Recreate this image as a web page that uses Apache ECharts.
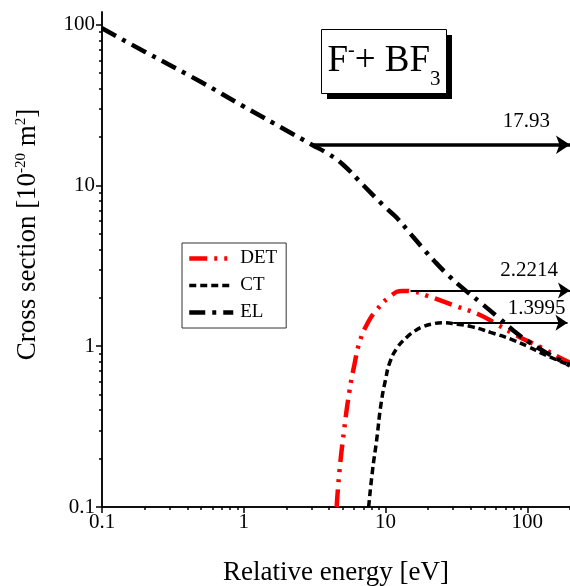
<!DOCTYPE html>
<html>
<head>
<meta charset="utf-8">
<script src="https://cdn.jsdelivr.net/npm/echarts@6/dist/echarts.min.js"></script>
<style>html,body{margin:0;padding:0;background:#fff}#c{width:570px;height:586px}</style>
</head>
<body>
<div id="c"></div>
<script>
// ---- data ----
const elData = [[0.1,95],[0.2,68],[0.5,44],[1,31],[2,22],[3,18],[4,15.6],[5,13.5],[7,10],[10,7.3],[12,6.3],[15,5],[18,4.15],[22,3.4],[28,2.74],[35,2.3],[46,1.89],[63,1.5],[80,1.25],[103,1.06],[140,0.9],[200,0.76]];
const detData = [[4.52,0.1],[4.74,0.17],[5.1,0.3],[5.57,0.53],[6.0,0.75],[6.56,1.06],[7.5,1.4],[8.65,1.68],[10.7,2.03],[13.2,2.21],[16,2.18],[20,2.05],[29.5,1.81],[46,1.57],[60,1.38],[78,1.21],[100,1.08],[126,0.98],[160,0.87],[200,0.79]];
const ctData = [[7.6,0.1],[8.1,0.17],[8.65,0.26],[9.3,0.44],[10,0.62],[10.7,0.79],[12,0.97],[14,1.13],[16,1.24],[18.2,1.32],[21,1.37],[25,1.4],[32,1.37],[41,1.32],[55,1.22],[78,1.1],[100,1.0],[135,0.88],[200,0.76]];
const arrows = [
  {name:'17.93', from:3, to:200, value:17.93},
  {name:'2.2214', from:15, to:200, value:2.2214},
  {name:'1.3995', from:30, to:192, value:1.3995}
];
const majorTicks = [0.1, 1, 10, 100];
const xMinorTicks = [0.2,0.3,0.4,0.5,0.6,0.7,0.8,0.9,2,3,4,5,6,7,8,9,20,30,40,50,60,70,80,90,200];
const yMinorTicks = [0.2,0.3,0.4,0.5,0.6,0.7,0.8,0.9,2,3,4,5,6,7,8,9,20,30,40,50,60,70,80,90];

const FONT = '"Liberation Serif", "Times New Roman", serif';
const chart = echarts.init(document.getElementById('c'), null, {renderer:'canvas'});

function arrowLine(a, width, dist) {
  return {
    silent: true,
    symbol: ['none', 'arrow'],
    symbolSize: width > 3 ? 14 : 12,
    lineStyle: {color:'#000', type:'solid', width: width},
    label: {show:true, position:'insideEndTop', formatter: a.name, color:'#000',
            fontFamily: FONT, fontSize: 21, distance: dist},
    data: [[{coord:[a.from, a.value]}, {coord:[a.to, a.value]}]]
  };
}

const axisCommon = {
  type: 'log', logBase: 10,
  axisLine: {show:true, lineStyle:{color:'#000', width:1.5}},
  splitLine: {show:false},
  minorSplitLine: {show:false}
};

const option = {
  animation: false,
  backgroundColor: '#fff',
  graphic: [
    {type:'rect', left:327, top:35, z:10, shape:{width:125, height:64}, style:{fill:'#000'}},
    {type:'rect', left:321, top:29, z:11, shape:{width:125, height:64}, style:{fill:'#fff', stroke:'#000', lineWidth:1}},
    {type:'text', x:384, y:61, z:12, style:{
      text: '{m|F}{sup|-}{m|+ BF}{sub|3}',
      align: 'center', verticalAlign: 'middle',
      rich: {
        m: {fontFamily: FONT, fontSize: 37, fill:'#000', lineHeight: 57, verticalAlign:'middle'},
        sup: {fontFamily: FONT, fontSize: 20, fill:'#000', verticalAlign:'top', lineHeight: 57, padding:[8,0,0,0]},
        sub: {fontFamily: FONT, fontSize: 21, fill:'#000', verticalAlign:'bottom', lineHeight: 57}
      }
    }}
  ],
  legend: {
    orient: 'vertical', left: 182, top: 243,
    padding: [6, 9, 6, 5],
    itemGap: 8, itemWidth: 44, itemHeight: 18,
    borderColor: '#333', borderWidth: 1, backgroundColor:'#fff',
    itemStyle: {opacity: 0},
    textStyle: {fontFamily: FONT, fontSize: 19, color:'#000', padding:[0,0,0,2]},
    data: [
      {name:'DET', lineStyle:{width:4.5}, itemStyle:{opacity:0}},
      {name:'CT', lineStyle:{width:3.5}, itemStyle:{opacity:0}},
      {name:'EL', lineStyle:{width:4.5}, itemStyle:{opacity:0}}
    ]
  },
  grid: {left: 102, right: 0, top: 12, bottom: 79, outerBoundsMode: 'none', containLabel: false},
  xAxis: [
    Object.assign({}, axisCommon, {
      min: 0.1, max: 200,
      name: 'Relative energy [eV]', nameLocation: 'middle', nameGap: 52,
      nameTextStyle: {fontFamily: FONT, fontSize: 27, color:'#000'},
      axisTick: {show:true, inside:false, length:6, lineStyle:{color:'#000', width:1.5}, customValues: majorTicks},
      axisLabel: {fontFamily: FONT, fontSize: 21, color:'#000', margin: 5, customValues: majorTicks,
                  formatter: v => String(v)}
    }),
    Object.assign({}, axisCommon, {
      min: 0.1, max: 200, position: 'bottom',
      axisTick: {show:true, inside:false, length:3, lineStyle:{color:'#000', width:1.5}, customValues: xMinorTicks},
      axisLabel: {show:false}
    })
  ],
  yAxis: [
    Object.assign({}, axisCommon, {
      min: 0.1, max: 120,
      name: '{a|Cross section [10}{s|-20}{a| m}{s|2}{a|]}', nameLocation: 'middle', nameGap: 61,
      nameTextStyle: {padding:[0,0,0,50], rich: {
        a: {fontFamily: FONT, fontSize: 27, color:'#000'},
        s: {fontFamily: FONT, fontSize: 15, color:'#000', verticalAlign:'top'}
      }},
      axisTick: {show:true, inside:false, length:6, lineStyle:{color:'#000', width:1.5}, customValues: majorTicks},
      axisLabel: {fontFamily: FONT, fontSize: 21, color:'#000', margin: 7, customValues: majorTicks,
                  formatter: v => String(v)}
    }),
    Object.assign({}, axisCommon, {
      min: 0.1, max: 120, position: 'left',
      axisTick: {show:true, inside:false, length:3, lineStyle:{color:'#000', width:1.5}, customValues: yMinorTicks},
      axisLabel: {show:false}
    })
  ],
  series: [
    {
      name: 'DET', type: 'line', data: detData, showSymbol: false, symbol: 'none', smooth: true,
      lineStyle: {color: '#ff0000', width: 4.5, type: [18, 7, 3, 7, 3, 7]},
      itemStyle: {color: '#ff0000'},
      markLine: arrowLine(arrows[1], 2, [12, 10])
    },
    {
      name: 'CT', type: 'line', data: ctData, showSymbol: false, symbol: 'none', smooth: true,
      lineStyle: {color: '#000', width: 3.5, type: [7, 4]},
      itemStyle: {color: '#000'},
      markLine: arrowLine(arrows[2], 2, [2, 4])
    },
    {
      name: 'EL', type: 'line', data: elData, showSymbol: false, symbol: 'none', smooth: true,
      lineStyle: {color: '#000', width: 4.5, type: [16, 7, 4, 7]},
      itemStyle: {color: '#000'},
      markLine: arrowLine(arrows[0], 3.5, [20, 13])
    }
  ]
};
chart.setOption(option);
</script>
</body>
</html>
